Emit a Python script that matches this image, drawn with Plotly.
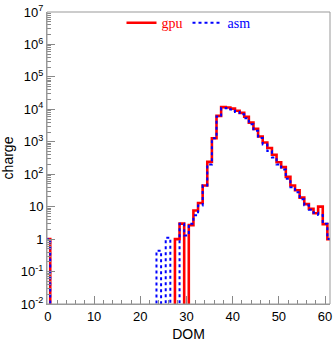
import numpy as np
import plotly.graph_objects as go

# DOM bins 0..61 (bin centres)
dom = list(range(62))

gpu = [1,
       0, 0, 0, 0, 0, 0, 0, 0, 0, 0,
       0, 0, 0, 0, 0, 0, 0, 0, 0, 0,
       0, 0, 0, 0, 0, 0, 0,
       1, 3, 0, 2.7, 7.6, 13, 45, 240, 1290, 6300,
       11700, 11400, 10500, 9000, 7800, 5900, 3900, 2500, 1450, 950,
       640, 400, 235, 165, 83, 45, 32, 19, 12, 8.6,
       6.3, 10, 2.9, 1]

asm = [1,
       0, 0, 0, 0, 0, 0, 0, 0, 0, 0,
       0, 0, 0, 0, 0, 0, 0, 0, 0, 0,
       0, 0, 0,
       0.44, 0, 1.1, 0, 0, 3, 1.3, 3, 5.4, 10.8, 45, 200, 1290, 6000,
       11000, 10800, 9800, 8300, 7000, 5300, 3500, 2200, 1300, 820,
       520, 330, 200, 140, 72, 40, 28, 17, 11, 8,
       6.5, 5.5, 3, 1]

x_ticks = [0, 10, 20, 30, 40, 50, 60]
y_tickvals = [1e-2, 1e-1, 1, 10, 1e2, 1e3, 1e4, 1e5, 1e6, 1e7]
y_ticktext = ["10<sup>-2</sup>", "10<sup>-1</sup>", "1", "10", "10<sup>2</sup>",
              "10<sup>3</sup>", "10<sup>4</sup>", "10<sup>5</sup>", "10<sup>6</sup>", "10<sup>7</sup>"]


def steps(centres, vals, floor=1e-4):
    c = np.asarray(centres, float)
    v = np.asarray(vals, float)
    v = np.where(v > 0, v, floor)
    xe = np.concatenate([c - 0.5, [c[-1] + 0.5]])
    ye = np.concatenate([v, [v[-1]]])
    return xe, ye


xg, yg = steps(dom, gpu)
xa, ya = steps(dom, asm)

fig = go.Figure()
fig.add_trace(go.Scatter(x=xg, y=yg, mode="lines", line_shape="hv",
                         line=dict(color="#ff0000", width=2.6),
                         name="<span style='color:#ff0000'>gpu</span>"))
fig.add_trace(go.Scatter(x=xa, y=ya, mode="lines", line_shape="hv",
                         line=dict(color="#0000ff", width=2, dash="dot"),
                         name="<span style='color:#0000ff'>asm</span>"))

minor_y = [k * 10.0 ** d for d in range(-2, 7) for k in range(2, 10)]

axis_font = dict(family="Liberation Sans, Arial, sans-serif", size=13, color="black")
title_font = dict(family="Liberation Sans, Arial, sans-serif", size=14, color="black")

fig.update_layout(
    width=335, height=342,
    margin=dict(l=47, r=3, t=10, b=37),
    paper_bgcolor="white", plot_bgcolor="white",
    showlegend=True,
    legend=dict(orientation="h", x=0.5, xanchor="center", y=0.962, yanchor="middle",
                bgcolor="rgba(0,0,0,0)", borderwidth=0,
                font=dict(family="Liberation Serif, Times New Roman, serif", size=14),
                itemwidth=30, tracegroupgap=0),
    xaxis=dict(range=[-0.2, 61.07], tickvals=x_ticks, ticks="inside", ticklen=8,
               tickcolor="#888888", tickwidth=1,
               showline=True, linecolor="#999999", linewidth=1, mirror=False,
               showgrid=False, zeroline=False, tickfont=axis_font,
               minor=dict(dtick=2, ticks="inside", ticklen=4, tickcolor="#888888", showgrid=False),
               title=dict(text="DOM", font=title_font, standoff=6)),
    yaxis=dict(type="log", range=[-2, 7], tickvals=y_tickvals, ticktext=y_ticktext,
               ticks="inside", ticklen=8, tickcolor="#888888", tickwidth=1,
               showline=True, linecolor="#999999", linewidth=1, mirror=False,
               showgrid=False, zeroline=False, tickfont=axis_font,
               minor=dict(tickvals=minor_y, ticks="inside", ticklen=4, tickcolor="#888888", showgrid=False),
               title=dict(text="charge", font=title_font, standoff=6)),
    shapes=[dict(type="rect", xref="paper", yref="paper", x0=0, y0=0, x1=1, y1=1,
                 line=dict(color="#999999", width=1), layer="above")],
)

fig.write_html("out.html")
